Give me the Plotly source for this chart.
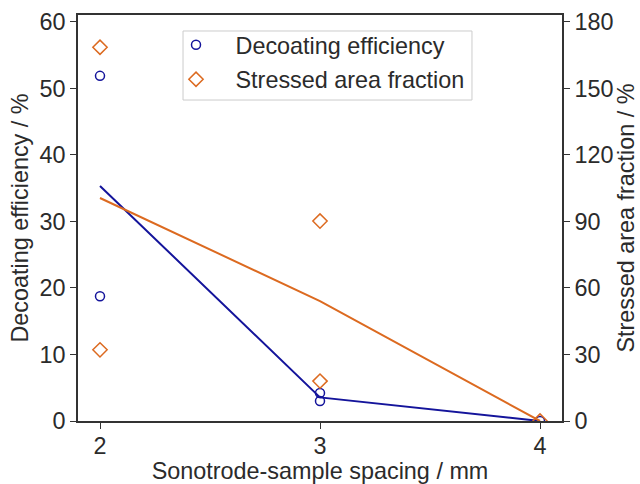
import plotly.graph_objects as go

spacing_pts = [2, 2, 3, 3, 4]
decoating_pts = [51.9, 18.75, 4.2, 3.0, 0.0]
stressed_pts = [168.6, 32.1, 90.2, 18.0, 0.0]

spacing_line = [2, 3, 4]
decoating_line = [35.35, 3.55, 0.0]
stressed_line = [100.6, 54.1, 0.0]

BLUE = "#14149b"
ORANGE = "#dc6a20"
TXT = "#2b2b2b"
FONT = "Liberation Sans, Arial, sans-serif"
FS = 23.4
NB = "\u00a0\u00a0\u00a0"

fig = go.Figure()
fig.add_trace(go.Scatter(x=spacing_line, y=decoating_line, mode="lines",
                         line=dict(color=BLUE, width=2), showlegend=False))
fig.add_trace(go.Scatter(x=spacing_line, y=stressed_line, mode="lines", yaxis="y2",
                         line=dict(color=ORANGE, width=2), showlegend=False))
fig.add_trace(go.Scatter(x=spacing_pts, y=decoating_pts, mode="markers",
                         name=NB + "Decoating efficiency", legendgroup="a",
                         marker=dict(symbol="circle-open", size=9, color=BLUE,
                                     line=dict(width=1.5, color=BLUE))))
fig.add_trace(go.Scatter(x=spacing_pts, y=stressed_pts, mode="markers", yaxis="y2",
                         name=NB + "Stressed area fraction", legendgroup="b",
                         marker=dict(symbol="diamond-open", size=11, color=ORANGE,
                                     line=dict(width=1.5, color=ORANGE))))

axis_common = dict(showline=True, linecolor="#333333", linewidth=1.5, ticks="outside",
                   ticklen=6, tickcolor="#333333", showgrid=False, zeroline=False,
                   automargin=False,
                   tickfont=dict(size=FS, color=TXT, family=FONT))

fig.update_layout(
    width=640, height=484,
    margin=dict(l=78, r=78, t=15, b=63),
    plot_bgcolor="white", paper_bgcolor="white",
    font=dict(family=FONT, color=TXT),
    xaxis=dict(range=[1.9, 4.1], tickvals=[2, 3, 4], mirror=True,
               ticklabelstandoff=-3,
               title=dict(text="Sonotrode-sample spacing / mm", font=dict(size=FS), standoff=4),
               **axis_common),
    yaxis=dict(range=[0, 61.05], tickvals=[0, 10, 20, 30, 40, 50, 60],
               title=dict(text="Decoating efficiency / %", font=dict(size=FS), standoff=4),
               **axis_common),
    yaxis2=dict(range=[0, 183.15], tickvals=[0, 30, 60, 90, 120, 150, 180],
                overlaying="y", side="right",
                title=dict(text="Stressed area fraction / %", font=dict(size=FS), standoff=4),
                **axis_common),
    shapes=[dict(type="rect", xref="paper", yref="paper",
                 x0=0.217, x1=0.814, y0=0.7906, y1=0.9606,
                 fillcolor="white", line=dict(color="#cccccc", width=1), layer="above")],
    legend=dict(x=0.2025, y=0.980, xanchor="left", yanchor="top",
                bgcolor="rgba(0,0,0,0)", borderwidth=0,
                font=dict(size=FS, color=TXT), tracegroupgap=1, itemwidth=30),
)

fig.write_html("out.html")
